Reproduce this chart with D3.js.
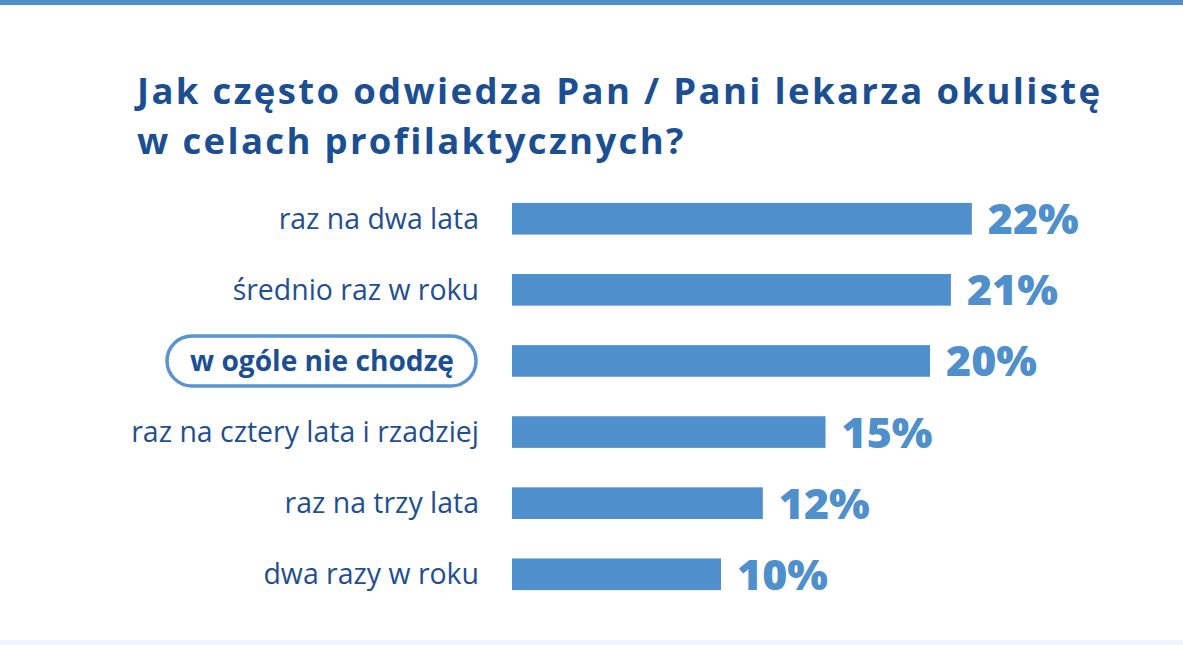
<!DOCTYPE html>
<html>
<head>
<meta charset="utf-8">
<script src="https://cdn.jsdelivr.net/npm/d3@7"></script>
<style>
  html, body { margin: 0; padding: 0; background: #ffffff; }
  svg { display: block; }
</style>
</head>
<body>
<div id="container"></div>
<script>
// chart data
const titleLines = ['Jak często odwiedza Pan / Pani lekarza okulistę', 'w celach profilaktycznych?'];
const categories = ['raz na dwa lata', 'średnio raz w roku', 'w ogóle nie chodzę', 'raz na cztery lata i rzadziej', 'raz na trzy lata', 'dwa razy w roku'];
const values = [22, 21, 20, 15, 12, 10];
const highlighted = ['w ogóle nie chodzę'];

const width = 1183, height = 645;
const barColor = '#4f8fcb';
const darkBlue = '#1c4f92';
const fontFamily = '"Open Sans", Lato, sans-serif';

const svg = d3.select('#container').append('svg')
  .attr('width', width)
  .attr('height', height);

function measure(sample, weight, size) {
  const t = svg.append('text')
    .attr('font-family', fontFamily)
    .attr('font-weight', weight)
    .attr('font-size', size)
    .text(sample);
  const w = t.node().getComputedTextLength();
  t.remove();
  return w;
}

// pick a font size so that a sample string gets the wanted width
function fitSize(sample, weight, target) {
  return 100 * target / measure(sample, weight, 100);
}

const titleSize = 36.5;
const titleSpacing = (963 - measure(titleLines[0], 700, titleSize)) / (titleLines[0].length - 1);
const labelSize = fitSize(categories[3], 400, 348);
const hlSize = fitSize(highlighted[0], 700, 264);
const valueSize = fitSize('22%', 800, 91);

// top stripe and faint bottom band
svg.append('rect').attr('x', 0).attr('y', 0).attr('width', width).attr('height', 5).attr('fill', '#4f8fcb');
svg.append('rect').attr('x', 0).attr('y', 640).attr('width', width).attr('height', 5).attr('fill', '#eef5fc');

// title
svg.append('g').attr('class', 'title')
  .selectAll('text')
  .data(titleLines)
  .enter().append('text')
  .attr('x', 137)
  .attr('y', (d, i) => 104 + i * 50)
  .attr('fill', darkBlue)
  .attr('font-family', fontFamily)
  .attr('font-weight', 700)
  .attr('font-size', titleSize)
  .attr('letter-spacing', titleSpacing)
  .text(d => d);

const x = d3.scaleLinear().domain([0, 22.2]).range([512, 976]);
const y = d3.scaleBand().domain(categories).range([183, 610]).paddingInner(0.555).paddingOuter(0.28);

const rows = svg.append('g').selectAll('g')
  .data(categories.map((c, i) => ({ label: c, value: values[i] })))
  .enter().append('g');

rows.append('rect')
  .attr('x', x(0))
  .attr('y', d => y(d.label))
  .attr('width', d => x(d.value) - x(0))
  .attr('height', y.bandwidth())
  .attr('fill', barColor);

rows.append('text')
  .attr('x', d => x(d.value) + 16)
  .attr('y', d => y(d.label) + y.bandwidth() / 2)
  .attr('dy', '0.36em')
  .attr('fill', barColor)
  .attr('font-family', fontFamily)
  .attr('font-weight', 800)
  .attr('font-size', valueSize)
  .text(d => d.value + '%');

// category labels
rows.filter(d => !highlighted.includes(d.label))
  .append('text')
  .attr('x', 479)
  .attr('y', d => y(d.label) + y.bandwidth() / 2)
  .attr('dy', '0.35em')
  .attr('text-anchor', 'end')
  .attr('fill', '#1f4f8f')
  .attr('font-family', fontFamily)
  .attr('font-weight', 400)
  .attr('font-size', labelSize)
  .text(d => d.label);

const hl = rows.filter(d => highlighted.includes(d.label));
hl.append('rect')
  .attr('x', 167)
  .attr('y', d => y(d.label) + y.bandwidth() / 2 - 25)
  .attr('width', 309)
  .attr('height', 50)
  .attr('rx', 25)
  .attr('fill', 'none')
  .attr('stroke', '#5b93cf')
  .attr('stroke-width', 3.5);
hl.append('text')
  .attr('x', 322)
  .attr('y', d => y(d.label) + y.bandwidth() / 2)
  .attr('dy', '0.35em')
  .attr('text-anchor', 'middle')
  .attr('fill', darkBlue)
  .attr('font-family', fontFamily)
  .attr('font-weight', 700)
  .attr('font-size', hlSize)
  .text(d => d.label);
</script>
</body>
</html>
